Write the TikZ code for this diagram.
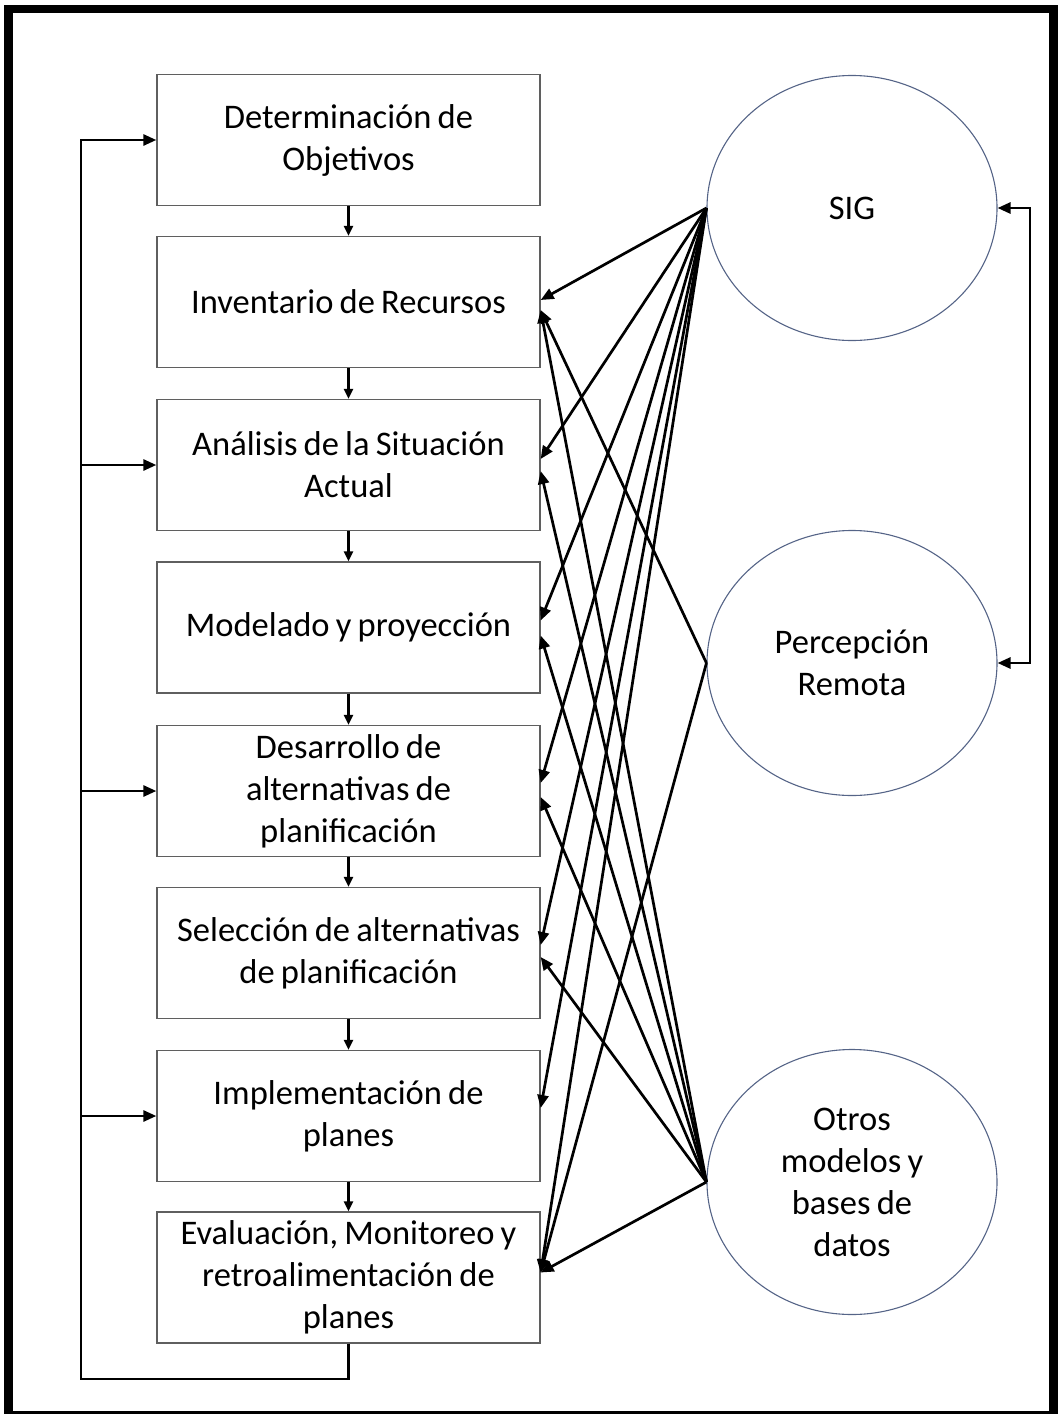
\documentclass[tikz,border=0pt]{standalone}
\usepackage{fontspec}
\setmainfont[WordSpace=0.8]{Carlito}
\usetikzlibrary{arrows.meta,shapes.geometric,calc}
\definecolor{boxgray}{RGB}{95,95,95}
\definecolor{ellblue}{RGB}{85,100,135}
\begin{document}
\begin{tikzpicture}[x=1pt,y=-1pt,
  box/.style={draw=boxgray,line width=1.3pt,minimum width=383pt,minimum height=131pt,inner sep=0pt,align=center,font=\fontsize{34.5}{42}\selectfont},
  ell/.style={ellipse,draw=ellblue,line width=1.1pt,minimum width=290pt,minimum height=265pt,inner sep=0pt,align=center,font=\fontsize{34.5}{42}\selectfont},
  conn/.style={line width=2.7pt,-{Triangle[length=13pt,width=11pt]}},
  both/.style={line width=2.7pt,{Triangle[length=13pt,width=11pt]}-{Triangle[length=13pt,width=11pt]}}
]
\useasboundingbox (0,0) rectangle (1058,1414);
% frame
\fill (4,5) rectangle (13,1414);
\fill (4,5) rectangle (1058,13);
\fill (1049,5) rectangle (1058,1414);
\fill (4,1411) rectangle (1058,1414);

% boxes
\node[box] (b1) at (348.5,140) {Determinación de\\Objetivos};
\node[box] (b2) at (348.5,302) {Inventario de Recursos};
\node[box] (b3) at (348.5,465) {Análisis de la Situación\\Actual};
\node[box] (b4) at (348.5,627.5) {Modelado y proyección};
\node[box] (b5) at (348.5,791) {Desarrollo de\\alternativas de\\planificación};
\node[box] (b6) at (348.5,953) {Selección de alternativas\\de planificación};
\node[box] (b7) at (348.5,1116) {Implementación de\\planes};
\node[box] (b8) at (348.5,1277.5) {Evaluación, Monitoreo y\\retroalimentación de\\planes};

% ellipses
\node[ell] (sig) at (852,208) {SIG};
\node[ell] (per) at (852,663) {Percepción\\Remota};
\node[ell] (otr) at (852,1182) {Otros\\modelos y\\bases de\\datos};

% vertical arrows between boxes
\foreach \a/\b in {b1/b2,b2/b3,b3/b4,b4/b5,b5/b6,b6/b7,b7/b8}
  \draw[line width=2.2pt,-{Triangle[length=10pt,width=9pt]}] (\a.south) -- (\b.north);

% feedback loop
\coordinate (lb) at (81,1379);
\draw[conn] (b8.south) |- (lb) |- (b1.west);
\draw[conn] (b3.west -| lb) -- (b3.west);
\draw[conn] (b5.west -| lb) -- (b5.west);
\draw[conn] (b7.west -| lb) -- (b7.west);

% right connector
\coordinate (rc) at (1030,0);
\draw[both] (sig.east) -- (sig.east -| rc) -- (per.east -| rc) -- (per.east);

% targets on box right sides
\coordinate (t2a) at ($(b2.east)+(0,-2)$);
\coordinate (t2b) at ($(b2.east)+(0,8)$);
\coordinate (t3a) at ($(b3.east)+(0,-6)$);
\coordinate (t3b) at ($(b3.east)+(0,6)$);
\coordinate (t4a) at ($(b4.east)+(0,-7)$);
\coordinate (t4b) at ($(b4.east)+(0,8)$);
\coordinate (t5a) at ($(b5.east)+(0,-8)$);
\coordinate (t5b) at ($(b5.east)+(0,6)$);
\coordinate (t6a) at ($(b6.east)+(0,-8)$);
\coordinate (t6b) at ($(b6.east)+(0,4)$);
\coordinate (t7a) at ($(b7.east)+(0,-8)$);
\coordinate (t8a) at ($(b8.east)+(0,-5)$);

% SIG fan
\foreach \t in {t2a,t3a,t4a,t5a,t6a,t7a,t8a}
  \draw[conn] (sig.west) -- (\t);
% Percepcion
\draw[conn] (per.west) -- (t2b);
\draw[conn] (per.west) -- (t8a);
% Otros fan
\foreach \t in {t2b,t3b,t4b,t5b,t6b,t8a}
  \draw[conn] (otr.west) -- (\t);
\end{tikzpicture}
\end{document}
